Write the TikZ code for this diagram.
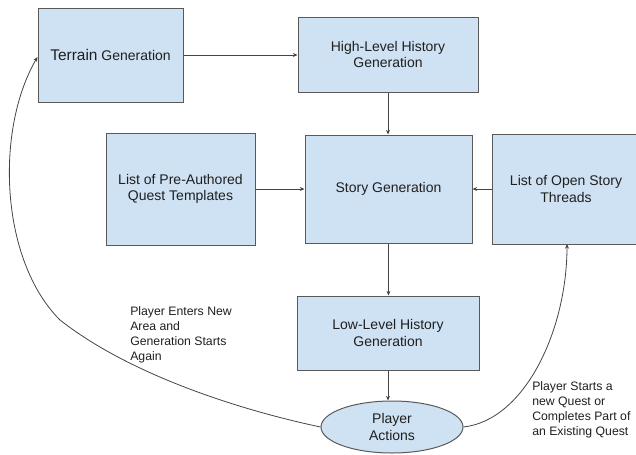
\documentclass[tikz,border=0pt]{standalone}
\usepackage{fontspec}
\setmainfont{Liberation Sans}
\usetikzlibrary{arrows.meta,shapes.geometric}
\definecolor{boxfill}{HTML}{CFE2F3}
\definecolor{boxline}{HTML}{595959}
\definecolor{conn}{HTML}{444444}
\definecolor{txt}{HTML}{1F1F1F}
\begin{document}
\begin{tikzpicture}[x=0.75pt,y=-0.75pt,
  boxnode/.style={draw=boxline,fill=boxfill,line width=0.75pt,inner sep=0pt,align=center,
    text=txt,font=\fontsize{10.5}{12.2}\selectfont},
  ellnode/.style={ellipse,draw=boxline,fill=boxfill,line width=0.75pt,inner sep=0pt,align=center,
    text=txt,font=\fontsize{10.5}{12.2}\selectfont},
  labelnode/.style={align=left,inner sep=0pt,text=txt,font=\fontsize{9.2}{11.3}\selectfont},
  conn/.style={draw=conn,line width=0.6pt,-{Stealth[length=3.5pt,width=3pt]}}]
\useasboundingbox (0,0) rectangle (636,454);
\node[boxnode,minimum width=108.75pt,minimum height=70.5pt] (terrain) at (110.5,55)
  {{\fontsize{11.6}{14}\selectfont Terrain} Generation};
\node[boxnode,minimum width=135pt,minimum height=56.25pt] (high) at (388,54.5)
  {High-Level History\\Generation};
\node[boxnode,minimum width=111.75pt,minimum height=84pt] (pre) at (180.5,189)
  {List of Pre-Authored\\Quest Templates};
\node[boxnode,minimum width=125.25pt,minimum height=81pt] (story) at (388.5,189)
  {Story Generation};
\node[boxnode,minimum width=110.25pt,minimum height=82.5pt] (open) at (566,189)
  {List of Open Story\\Threads};
\node[boxnode,minimum width=136.5pt,minimum height=55.5pt] (low) at (388,333)
  {Low-Level History\\Generation};
\node[ellnode,minimum width=106.5pt,minimum height=39pt] (player) at (392,427)
  {Player\\Actions};
\node[labelnode,anchor=west] (lblleft) at (130,334.5)
  {Player Enters New\\Area and\\Generation Starts\\Again};
\node[labelnode,anchor=west] (lblright) at (532,410)
  {Player Starts a\\new Quest or\\Completes Part of\\an Existing Quest};
\draw[conn] (terrain.east) -- (terrain.east -| high.west);
\draw[conn] (high.south) -- (high.south |- story.north);
\draw[conn] (pre.east) -- (story.west);
\draw[conn] (open.west) -- (story.east);
\draw[conn] (story.south) -- (story.south |- low.north);
\draw[conn] (low.south) -- (low.south |- player.north);
\coordinate (lmid) at (60,320);
\draw[conn] (player.west) .. controls (240,410) and (130,375) .. (lmid)
  .. controls (0,260) and (-5,130) .. ([yshift=-1.5]terrain.west);
\coordinate (rtop) at (567,244);
\draw[conn] (player.east) .. controls (525,420) and (567,330) .. (rtop);
\end{tikzpicture}
\end{document}
